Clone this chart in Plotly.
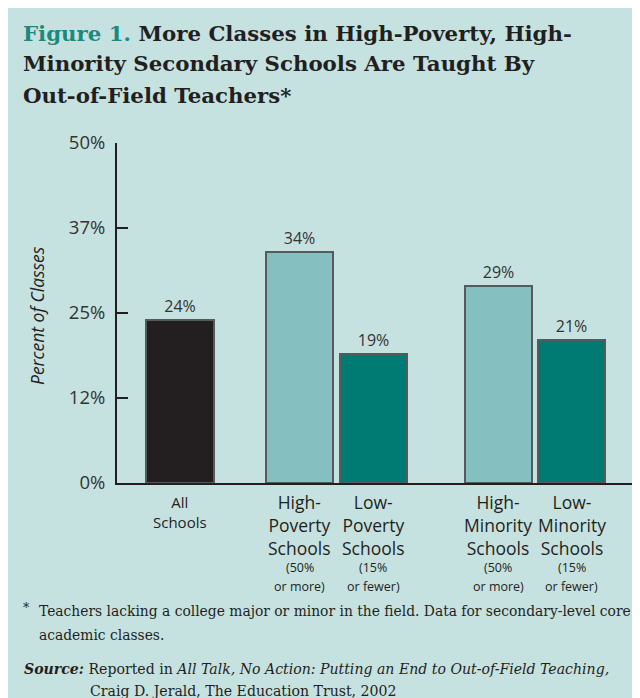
import plotly.graph_objects as go
import numpy as np

# ---- data ----
categories = ["All Schools", "High-Poverty Schools", "Low-Poverty Schools",
              "High-Minority Schools", "Low-Minority Schools"]
values = [24, 34, 19, 29, 21]
value_labels = ["24%", "34%", "19%", "29%", "21%"]
main_labels = ["All<br>Schools", "High-<br>Poverty<br>Schools", "Low-<br>Poverty<br>Schools",
               "High-<br>Minority<br>Schools", "Low-<br>Minority<br>Schools"]
sub_line1 = ["", "(50%", "(15%", "(50%", "(15%"]
sub_line2 = ["", "or more)", "or fewer)", "or more)", "or fewer)"]
y_tickvals = [0, 12.5, 25, 37.5, 50]
y_ticktext = ["0%", "12%", "25%", "37%", "50%"]
title_lines = ["Figure 1.|More Classes in High-Poverty, High-",
               "Minority Secondary Schools Are Taught By",
               "Out-of-Field Teachers*"]

# ---- style / layout ----
BG = "#c6e2e0"
INK = "#231f20"
TEAL_TITLE = "#1a8a80"
bar_colors = ["#231f20", "#86bfbf", "#007b74", "#86bfbf", "#007b74"]
# spacing between bar slots (in slot units): extra gap between groups
step = [0, 1.626, 1.0, 1.707, 1.0]
xpos = list(np.cumsum(step))

OFF = 8  # page body margin
W, H = 632, 690
L, R, T, B = 109, 0, 135, 215
PW, PH = W - L - R, H - T - B

def px_x(px):  # reference page pixel -> paper x
    return (px - OFF - L) / PW

def px_y(py):  # reference page pixel -> paper y
    return (H - B - (py - OFF)) / PH

SANS = "Open Sans"
SERIF = "DejaVu Serif"

fig = go.Figure()
fig.add_trace(go.Bar(
    x=xpos, y=values, width=0.912,
    marker=dict(color=bar_colors, line=dict(color="#555b5b", width=2)),
    text=value_labels, textposition="outside",
    textfont=dict(family=SANS, size=16, color="#333333"),
    cliponaxis=False, hoverinfo="skip",
))

annotations = []
for xp, m, s1, s2, c in zip(xpos, main_labels, sub_line1, sub_line2, categories):
    big = c != "All Schools"
    annotations.append(dict(
        x=xp, y=0, xref="x", yref="paper", xanchor="center", yanchor="top",
        yshift=-5 if big else -7, text=m, showarrow=False, align="center",
        font=dict(family=SANS, size=17.5 if big else 15, color=INK),
    ))
    for k, s in enumerate([s1, s2]):
        if s:
            annotations.append(dict(
                x=xp, y=px_y(567 + 19 * k), xref="x", yref="paper", xanchor="center",
                yanchor="middle", text=s, showarrow=False, align="center",
                font=dict(family=SANS, size=12.5, color=INK),
            ))

# title lines
for k, line in enumerate(title_lines):
    if "|" in line:
        a, b = line.split("|")
        txt = "<b><span style='color:%s'>%s</span> %s</b>" % (TEAL_TITLE, a, b)
    else:
        txt = "<b>%s</b>" % line
    annotations.append(dict(
        x=px_x(21), y=px_y(33 + 31 * k), xref="paper", yref="paper", xanchor="left",
        yanchor="middle", text=txt, showarrow=False, align="left",
        font=dict(family=SERIF, size=21.3, color=INK),
    ))

# y-axis title
annotations.append(dict(
    x=px_x(37), y=px_y(316), xref="paper", yref="paper", xanchor="center", yanchor="middle",
    text="<i>Percent of Classes</i>", textangle=-90, showarrow=False,
    font=dict(family=SANS, size=17.5, color=INK),
))

# footnotes
foot = [
    (21, 607, "*", 12.5),
    (37, 611, "Teachers lacking a college major or minor in the field. Data for secondary-level core", 13.85),
    (37, 635, "academic classes.", 13.85),
    (22, 669, "<b><i>Source:</i></b> Reported in <i>All Talk, No Action: Putting an End to Out-of-Field Teaching,</i>", 14.1),
    (88, 691, "Craig D. Jerald, The Education Trust, 2002", 14.1),
]
for fx, fy, ft, fs in foot:
    annotations.append(dict(
        x=px_x(fx), y=px_y(fy), xref="paper", yref="paper", xanchor="left", yanchor="middle",
        text=ft, showarrow=False, align="left",
        font=dict(family=SERIF, size=fs, color=INK),
    ))

fig.update_layout(
    width=W, height=H, autosize=False,
    margin=dict(l=L, r=R, t=T, b=B, pad=0),
    paper_bgcolor=BG, plot_bgcolor=BG,
    showlegend=False,
    xaxis=dict(
        range=[-63 / 73.5, (640 - 180) / 73.5],
        showline=True, linecolor=INK, linewidth=2,
        showticklabels=False, ticks="", showgrid=False, zeroline=False, fixedrange=True,
    ),
    yaxis=dict(
        range=[0, 50], tickvals=y_tickvals, ticktext=y_ticktext,
        showline=True, linecolor=INK, linewidth=2,
        ticks="inside", ticklen=11, tickwidth=2, tickcolor=INK,
        ticklabelstandoff=6,
        tickfont=dict(family=SANS, size=18.5, color="#333333"),
        showgrid=False, zeroline=False, fixedrange=True,
    ),
    annotations=annotations,
    bargap=0,
)

fig.write_html("out.html")
